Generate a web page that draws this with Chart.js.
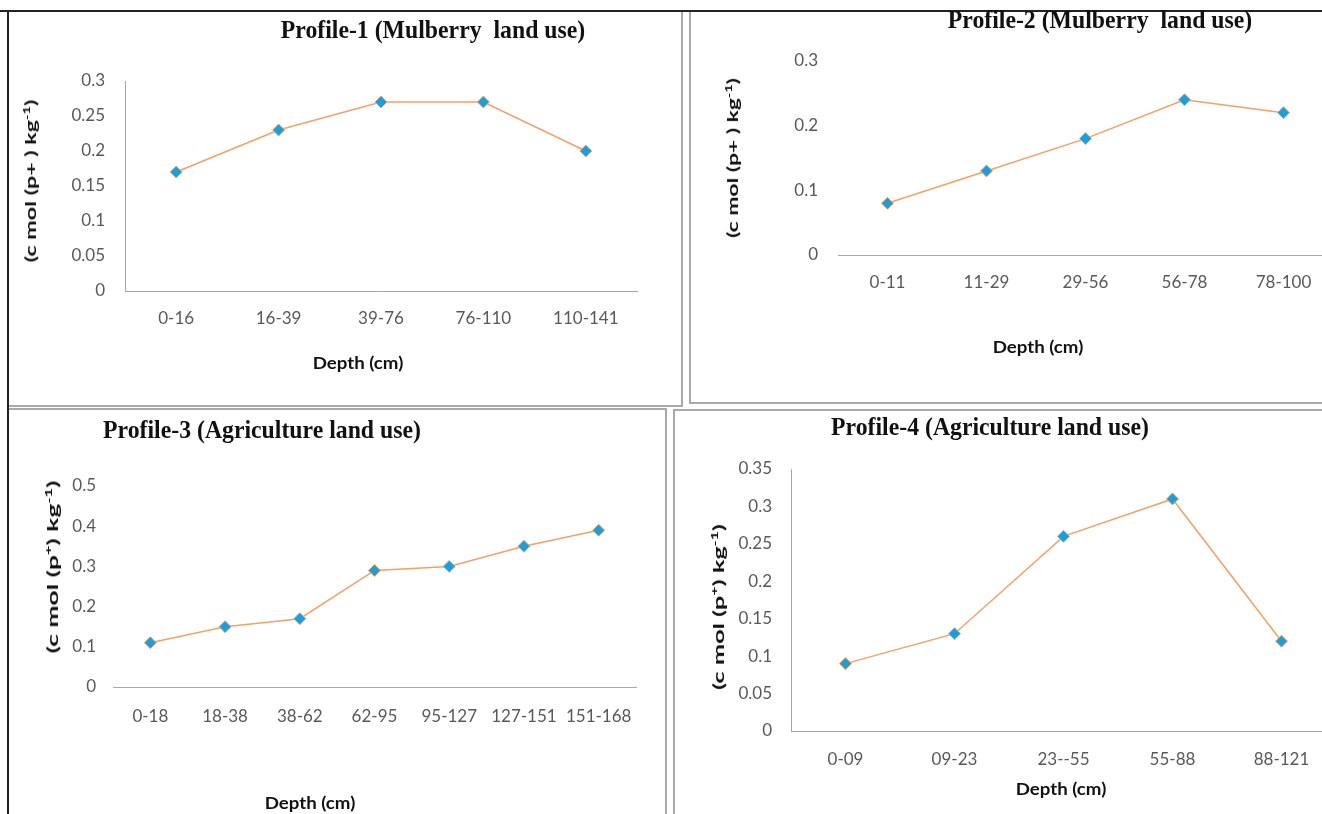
<!DOCTYPE html>
<html>
<head>
<meta charset="utf-8">
<script src="https://cdn.jsdelivr.net/npm/chart.js@4.4.1/dist/chart.umd.min.js"></script>
<style>
html,body{margin:0;padding:0;background:#fff;}
body{width:1322px;height:814px;overflow:hidden;position:relative;}
.panel{position:absolute;border:2px solid #a8a8a8;box-sizing:border-box;}
.hline{position:absolute;background:#222;}
canvas{position:absolute;}
.title{position:absolute;white-space:pre;font-family:"Liberation Serif","Times New Roman",serif;font-weight:bold;font-size:22px;color:#111;transform:translate(-50%,-50%) scale(1.08,1.15);line-height:1;}
.xt{position:absolute;white-space:pre;font-family:Lato,"Liberation Sans",sans-serif;font-weight:bold;font-size:17px;color:#111;transform:translate(-50%,-50%) scale(1.1,1.05);line-height:1;}
.yt{position:absolute;white-space:pre;font-family:Lato,"Liberation Sans",sans-serif;font-weight:bold;font-size:16px;color:#111;line-height:1;}
.yt sup{font-size:10px;line-height:0;}
</style>
</head>
<body>
<script>
// ---------- data ----------
const titles = [
  "Profile-1 (Mulberry  land use)",
  "Profile-2 (Mulberry  land use)",
  "Profile-3 (Agriculture land use)",
  "Profile-4 (Agriculture land use)"
];
const xAxisTitle = "Depth (cm)";
const yAxisTitles = [
  "(c mol (p+ ) kg<sup>-1</sup>)",
  "(c mol (p+ ) kg<sup>-1</sup>)",
  "(c mol (p<sup>+</sup>) kg<sup>-1</sup>)",
  "(c mol (p<sup>+</sup>) kg<sup>-1</sup>)"
];

const depth1 = ["0-16", "16-39", "39-76", "76-110", "110-141"];
const values1 = [0.17, 0.23, 0.27, 0.27, 0.20];
const yTicks1 = [0, 0.05, 0.1, 0.15, 0.2, 0.25, 0.3];
const yLabels1 = ["0", "0.05", "0.1", "0.15", "0.2", "0.25", "0.3"];

const depth2 = ["0-11", "11-29", "29-56", "56-78", "78-100"];
const values2 = [0.08, 0.13, 0.18, 0.24, 0.22];
const yTicks2 = [0, 0.1, 0.2, 0.3];
const yLabels2 = ["0", "0.1", "0.2", "0.3"];

const depth3 = ["0-18", "18-38", "38-62", "62-95", "95-127", "127-151", "151-168"];
const values3 = [0.11, 0.15, 0.17, 0.29, 0.30, 0.35, 0.39];
const yTicks3 = [0, 0.1, 0.2, 0.3, 0.4, 0.5];
const yLabels3 = ["0", "0.1", "0.2", "0.3", "0.4", "0.5"];

const depth4 = ["0-09", "09-23", "23--55", "55-88", "88-121"];
const values4 = [0.09, 0.13, 0.26, 0.31, 0.12];
const yTicks4 = [0, 0.05, 0.1, 0.15, 0.2, 0.25, 0.3, 0.35];
const yLabels4 = ["0", "0.05", "0.1", "0.15", "0.2", "0.25", "0.3", "0.35"];

// ---------- layout (page px) ----------
function addDiv(cls, style, html) {
  const d = document.createElement('div');
  d.className = cls;
  Object.assign(d.style, style);
  if (html !== undefined) d.innerHTML = html;
  document.body.appendChild(d);
  return d;
}
addDiv('panel', {left:'7px', top:'10px', width:'676px', height:'397px'});
addDiv('panel', {left:'689px', top:'10px', width:'700px', height:'394px'});
addDiv('panel', {left:'7px', top:'408px', width:'660px', height:'420px'});
addDiv('panel', {left:'673px', top:'409px', width:'700px', height:'420px'});
addDiv('hline', {left:'0px', top:'10px', width:'1322px', height:'2px'});
addDiv('hline', {left:'7px', top:'10px', width:'2px', height:'804px'});

const panels = [
  {cats:depth1, vals:values1, ticks:yTicks1, labels:yLabels1, axisY:true,
   cv:{l:8, t:11, w:673, h:394}, plot:{l:117, r:629, t:70, b:280}, yPad:20, xPad:17,
   title:[433, 30], xt:[358, 362], yt:[30, 181], ytLen:163},
  {cats:depth2, vals:values2, ticks:yTicks2, labels:yLabels2, axisY:false,
   cv:{l:690, t:11, w:680, h:392}, plot:{l:148, r:643, t:50, b:244}, yPad:20, xPad:17,
   title:[1100, 20], xt:[1038, 346], yt:[732, 158], ytLen:160},
  {cats:depth3, vals:values3, ticks:yTicks3, labels:yLabels3, axisY:false,
   cv:{l:8, t:409, w:658, h:405}, plot:{l:105, r:628, t:77, b:278}, yPad:17, xPad:19,
   title:[262, 430], xt:[310, 802], yt:[52, 567], ytLen:172},
  {cats:depth4, vals:values4, ticks:yTicks4, labels:yLabels4, axisY:true,
   cv:{l:675, t:409, w:680, h:405}, plot:{l:116, r:661, t:60, b:322}, yPad:19, xPad:18,
   title:[990, 427], xt:[1061, 788], yt:[718, 607], ytLen:165}
];

panels.forEach((p, i) => {
  const c = document.createElement('canvas');
  c.width = p.cv.w; c.height = p.cv.h;
  c.style.left = p.cv.l + 'px'; c.style.top = p.cv.t + 'px';
  c.style.width = p.cv.w + 'px'; c.style.height = p.cv.h + 'px';
  document.body.appendChild(c);

  const xH = 50;
  new Chart(c.getContext('2d'), {
    type: 'line',
    data: {
      labels: p.cats,
      datasets: [{
        data: p.vals,
        borderColor: '#f5a064',
        borderWidth: 1.5,
        pointStyle: 'rectRot',
        pointRadius: 6,
        pointBackgroundColor: '#1a9fdb',
        pointBorderColor: '#e9a46c',
        pointBorderWidth: 1,
        tension: 0,
        fill: false
      }]
    },
    options: {
      responsive: false,
      animation: false,
      devicePixelRatio: 1,
      layout: {padding: {left: 0, top: p.plot.t, right: p.cv.w - p.plot.r, bottom: p.cv.h - p.plot.b - xH}},
      plugins: {legend: {display: false}, tooltip: {enabled: false}, title: {display: false}},
      scales: {
        x: {
          type: 'category',
          offset: true,
          grid: {display: false, drawTicks: false},
          border: {display: true, color: '#a6a6a6', width: 1},
          ticks: {color: '#595959', font: {family: 'Lato', size: 17}, padding: p.xPad, maxRotation: 0, autoSkip: false},
          afterFit: (s) => { s.height = xH; }
        },
        y: {
          min: p.ticks[0],
          max: p.ticks[p.ticks.length - 1],
          grid: {display: false, drawTicks: false},
          border: {display: p.axisY, color: '#a6a6a6', width: 1},
          afterBuildTicks: (s) => { s.ticks = p.ticks.map(v => ({value: v})); },
          ticks: {
            color: '#595959', font: {family: 'Lato', size: 17}, padding: p.yPad,
            callback: (v, idx) => p.labels[idx]
          },
          afterFit: (s) => { s.width = p.plot.l; }
        }
      }
    }
  });

  addDiv('title', {left: p.title[0] + 'px', top: p.title[1] + 'px'}, titles[i]);
  addDiv('xt', {left: p.xt[0] + 'px', top: p.xt[1] + 'px'}, xAxisTitle);
  const y = addDiv('yt', {left: p.yt[0] + 'px', top: p.yt[1] + 'px'}, yAxisTitles[i]);
  const w = y.offsetWidth;
  const sx = p.ytLen / w;
  y.style.transform = 'translate(-50%,-50%) rotate(-90deg) scale(' + sx.toFixed(3) + ',1)';
});
</script>
</body>
</html>
